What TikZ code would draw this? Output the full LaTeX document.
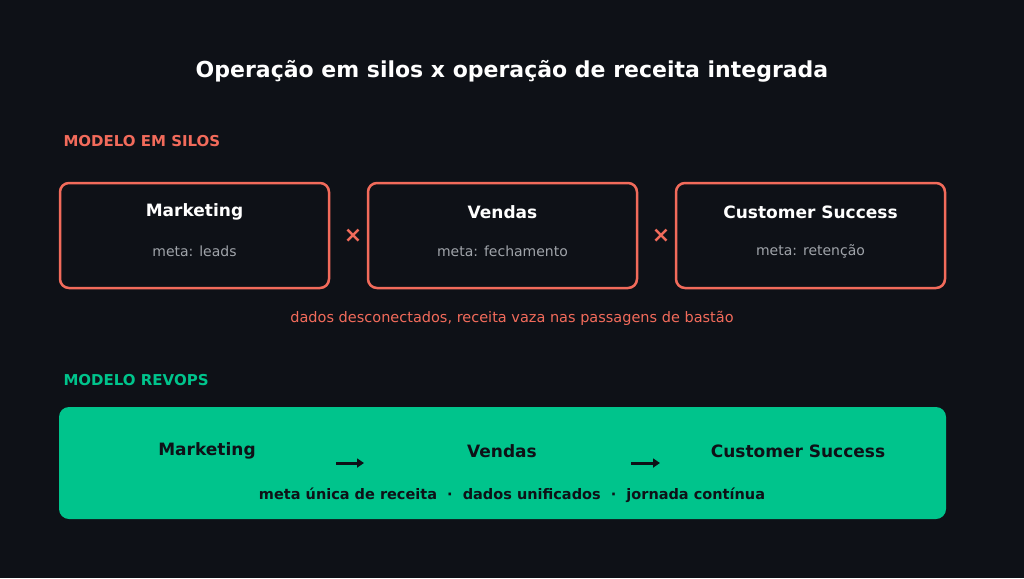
\documentclass[tikz,border=0pt]{standalone}
\usepackage{fontspec}
\setmainfont{DejaVu Sans}
\usetikzlibrary{positioning,arrows.meta}
\definecolor{bg}{HTML}{0E1117}
\definecolor{silo}{HTML}{F26B5B}
\definecolor{revops}{HTML}{00C48C}
\definecolor{subtxt}{HTML}{A0A4AA}
\tikzset{
  silobox/.style={draw=silo, line width=2.5pt, rounded corners=9pt, minimum width=269pt, minimum height=105pt},
  boxtitle/.style={font=\bfseries\fontsize{17}{20}\selectfont, text=white},
  boxmeta/.style={font=\fontsize{14}{17}\selectfont, text=subtxt},
  section/.style={font=\bfseries\fontsize{15}{18}\selectfont, anchor=west},
  cross/.style={font=\bfseries\fontsize{22}{24}\selectfont, text=silo},
  flowtitle/.style={font=\bfseries\fontsize{17}{20}\selectfont, text=bg},
  flowarrow/.style={-{Triangle[length=7pt,width=9pt]}, line width=3pt, draw=bg}
}
\begin{document}
\begin{tikzpicture}[x=1pt,y=-1pt]
\fill[bg] (0,0) rectangle (1024,578);
\useasboundingbox (0,0) rectangle (1024,578);
\node[font=\bfseries\fontsize{22}{26}\selectfont, text=white] (title) at (512,71) {Operação em silos x operação de receita integrada};
% silos
\node[section, text=silo] (sec1) at (60,141) {MODELO EM SILOS};
\node[silobox] (mkt) at (194.5,235.5) {};
\node[silobox] (ven) at (502.5,235.5) {};
\node[silobox] (cs) at (810.5,235.5) {};
\node[boxtitle] at (194.5,212) {Marketing};
\node[boxmeta] at (194.5,251) {meta: leads};
\node[boxtitle] at (502.5,212) {Vendas};
\node[boxmeta] at (502.5,251) {meta: fechamento};
\node[boxtitle] at (810.5,212) {Customer Success};
\node[boxmeta] at (810.5,251) {meta: retenção};
\node[cross] (x1) at (353,236) {×};
\node[cross] (x2) at (661,236) {×};
\node[font=\fontsize{14.5}{17}\selectfont, text=silo] (leak) at (512,318) {dados desconectados, receita vaza nas passagens de bastão};
% revops
\node[section, text=revops] (sec2) at (60,380) {MODELO REVOPS};
\fill[revops, rounded corners=10pt] (59,407) rectangle (946,519);
\node[flowtitle] (fm) at (207,451) {Marketing};
\node[flowtitle] (fv) at (502,451) {Vendas};
\node[flowtitle] (fc) at (798,451) {Customer Success};
\coordinate (a1) at (336,463); \coordinate (b1) at (364,463);
\coordinate (a2) at (631,463); \coordinate (b2) at (660,463);
\draw[flowarrow] (a1) -- (b1);
\draw[flowarrow] (a2) -- (b2);
\node[font=\bfseries\fontsize{14.5}{17}\selectfont, text=bg] (foot) at (512,495) {meta única de receita~~·~~dados unificados~~·~~jornada contínua};
\end{tikzpicture}
\end{document}
